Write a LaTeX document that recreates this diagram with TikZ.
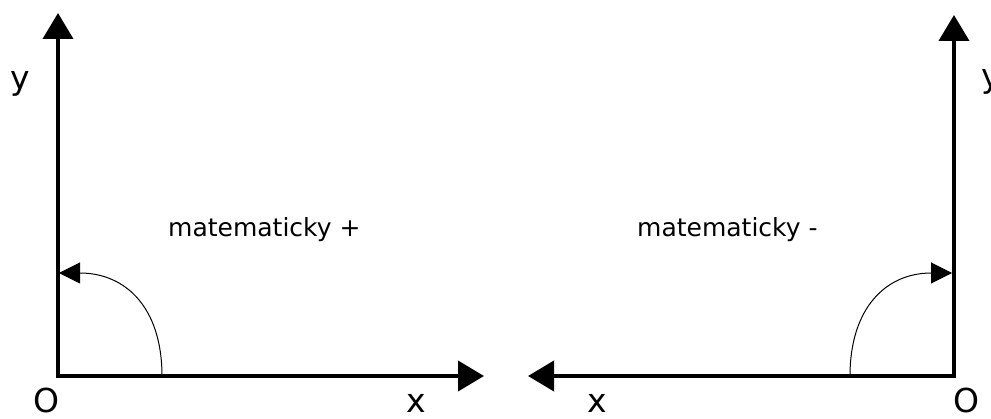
\documentclass[tikz,border=0pt]{standalone}
\usepackage{fontspec}
\setmainfont{DejaVu Sans}
\usetikzlibrary{arrows.meta}
\begin{document}
\begin{tikzpicture}[
  x=1pt, y=-1pt,
  axis/.style={line width=4pt,line join=miter,{Triangle[length=26pt,width=30pt]}-{Triangle[length=26pt,width=30pt]}},
  turn/.style={line width=1pt,-{Triangle[length=21pt,width=21pt]}},
  big/.style={inner sep=0pt,anchor=base,font=\fontsize{33}{40}\selectfont},
  txt/.style={inner sep=0pt,anchor=base west,font=\fontsize{25}{30}\selectfont}
]
\useasboundingbox (0,0) rectangle (991,419);

% left system
\coordinate (o1) at (58,376);
\coordinate (y1) at (58,13);
\coordinate (x1) at (484,376);
\coordinate (s1) at (162,376);
\coordinate (e1) at (59,273);
\draw[axis] (y1) -- (o1) -- (x1);
\draw[turn] (s1) .. controls (162,308) and (126,273) .. (e1);

% right system
\coordinate (o2) at (954,376);
\coordinate (y2) at (954,15);
\coordinate (x2) at (528,376);
\coordinate (s2) at (850,376);
\coordinate (e2) at (952,273);
\draw[axis] (y2) -- (o2) -- (x2);
\draw[turn] (s2) .. controls (850,308) and (886,273) .. (e2);

\node[big] (ly) at (20,90) {y};
\node[big] (lo) at (46,413) {O};
\node[big] (lx) at (416,413) {x};
\node[big] (rx) at (597,413) {x};
\node[big] (ro) at (966,413) {O};
\node[big] (ry) at (991,88) {y};

\node[txt] (plus) at (168,237) {matematicky +};
\node[txt] (minus) at (637,237) {matematicky -};
\end{tikzpicture}
\end{document}
